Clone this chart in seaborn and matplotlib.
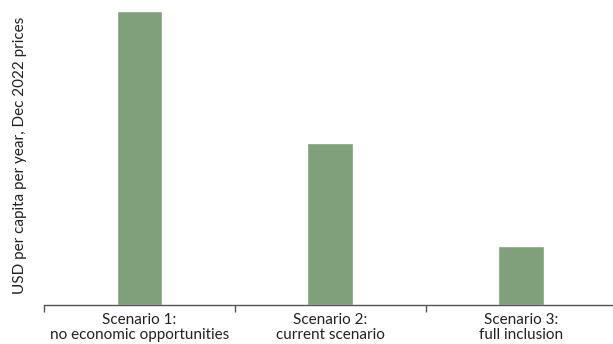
import numpy as np
import pandas as pd
import seaborn as sns
from matplotlib import pyplot as plt

# values (no y ticks, so relative units)
scenarios = ['Scenario 1:\nno economic opportunities',
             'Scenario 2:\ncurrent scenario',
             'Scenario 3:\nfull inclusion']
cost = [294, 162, 59]
ylabel = 'USD per capita per year, Dec 2022 prices'

df = pd.DataFrame({'scenario': scenarios, 'cost': cost})

sns.set_style('white')
plt.rcParams['font.family'] = ['Lato', 'DejaVu Sans']

fig = plt.figure(figsize=(6.13, 3.44), dpi=100)
ax = fig.add_axes([44 / 613, 1 - 305 / 344, 569 / 613, 300 / 344])

sns.barplot(data=df, x='scenario', y='cost', color='#7fa07a',
            saturation=1, width=0.24, ax=ax)

ax.set_ylim(0, 300)
ax.set_xlim(-0.5, 2.48)
ax.set_yticks([])
ax.set_xlabel('')
ax.set_ylabel(ylabel, fontsize=11, color='#222222', labelpad=12)

# ticks sit between categories
ax.set_xticks(np.arange(len(scenarios)))
ax.set_xticklabels(scenarios, fontsize=11, color='#222222', linespacing=1.05)
ax.tick_params(axis='x', length=0, pad=6)
ax.set_xticks(np.arange(len(scenarios)) - 0.5, minor=True)
ax.tick_params(axis='x', which='minor', length=5, width=1, color='#555555',
               direction='out', bottom=True)

for s in ['top', 'right', 'left']:
    ax.spines[s].set_visible(False)
ax.spines['bottom'].set_color('#555555')
ax.spines['bottom'].set_linewidth(1)

fig.savefig('out.png', dpi=100)
